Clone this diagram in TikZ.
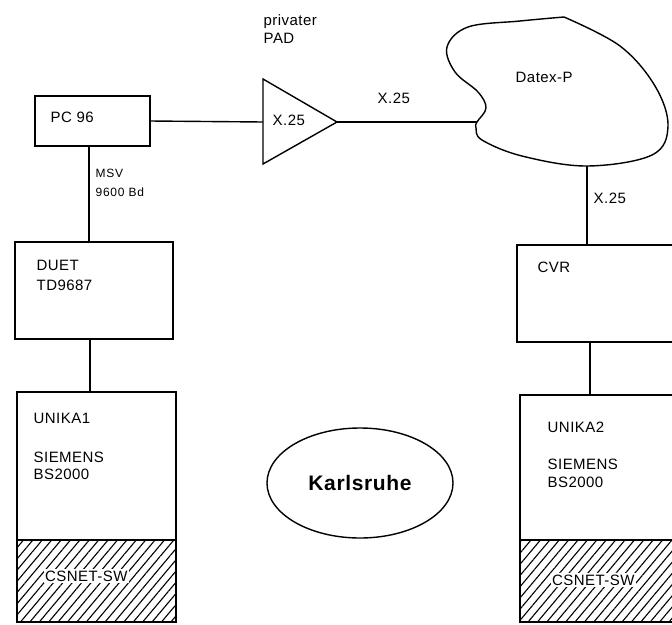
\documentclass[tikz,border=0pt]{standalone}
\usepackage{fontspec}
\setmainfont{Liberation Sans}[LetterSpace=3]
\usetikzlibrary{shapes.geometric,patterns.meta}
\begin{document}
\begin{tikzpicture}[x=1pt,y=-1pt,line width=1.4pt,
  box/.style={draw,line width=1.4pt,inner sep=0pt,outer sep=0pt,anchor=north west},
  txt/.style={anchor=base west,inner sep=0pt,font=\fontsize{15}{18}\selectfont},
  small/.style={anchor=base west,inner sep=0pt,font=\fontsize{12}{14}\selectfont\addfontfeatures{LetterSpace=6}},
  hatch/.style={pattern={Lines[angle=50,distance=7.2pt,line width=1.1pt]}},
  swlabel/.style={anchor=base west,inner sep=1.5pt,fill=white,font=\fontsize{15}{18}\selectfont}]
\useasboundingbox (0,0) rectangle (672,624);

% boxes
\node[box,minimum width=115,minimum height=50] (pc) at (35,96) {};
\node[box,minimum width=158,minimum height=97] (duet) at (15,242) {};
\node[box,minimum width=159,minimum height=148] (unika1) at (17,392) {};
\node[box,hatch,minimum width=159,minimum height=82] (sw1) at (17,540) {};
\node[box,minimum width=190,minimum height=97] (cvr) at (517,245) {};
\node[box,minimum width=190,minimum height=145] (unika2) at (520,395) {};
\node[box,hatch,minimum width=190,minimum height=82] (sw2) at (520,540) {};

% PAD triangle
\coordinate (padT) at (263,79);
\coordinate (padB) at (263,164);
\coordinate (padR) at (337,122);
\coordinate (padL) at (263,122);
\draw (padT) -- (padR) -- (padB) -- cycle;

% Datex-P cloud
\coordinate (cloudL) at (477,122);
\coordinate (cloudB) at (587,166);
\draw plot[smooth,tension=0.6] coordinates {(564,17) (620,46) (655,86) (668,126) (652,155) (587,166) (522,156) (482,140) (476,128) (477,122) (486,108) (478,92) (455,72) (447,47) (468,27) (520,21) (564,17)};

% Karlsruhe
\node[draw,ellipse,minimum width=186,minimum height=110,line width=1.4pt,
  font=\fontsize{21}{24}\bfseries\selectfont] (ka) at (360,483) {Karlsruhe};

% connectors
\draw (pc.east) -- (padL);
\draw (padR) -- (cloudL);
\draw ([xshift=-3.5pt]pc.south) -- ([xshift=-3.5pt]pc.south |- duet.north);
\draw ([xshift=-4pt]duet.south) -- ([xshift=-4pt]duet.south |- unika1.north);
\draw (cloudB) -- (cloudB |- cvr.north);
\draw ([xshift=73pt]cvr.south west) -- ([xshift=73pt]cvr.south west |- unika2.north);

% texts
\node[txt] (tpc) at (50,122) {PC 96};
\node[small] (tmsv) at (95,177) {MSV};
\node[small] (tbd) at (95,196) {9600 Bd};
\node[txt] (tpriv) at (263,25) {privater};
\node[txt] (tpad) at (263,43) {PAD};
\node[txt] (tx1) at (272,125) {X.25};
\node[txt] (tx2) at (377,103) {X.25};
\node[txt] (tdatex) at (515,82) {Datex-P};
\node[txt] (tx3) at (593,203) {X.25};
\node[txt] (tduet) at (36,270) {DUET};
\node[txt] (ttd) at (36,290) {TD9687};
\node[txt] (tcvr) at (537,272) {CVR};
\node[txt] (tu1) at (33,423) {UNIKA1};
\node[txt] (ts1) at (33,462) {SIEMENS};
\node[txt] (tb1) at (33,479) {BS2000};
\node[swlabel] (tc1) at (43,581) {CSNET-SW};
\node[txt] (tu2) at (547,432) {UNIKA2};
\node[txt] (ts2) at (547,469) {SIEMENS};
\node[txt] (tb2) at (547,487) {BS2000};
\node[swlabel] (tc2) at (550,585) {CSNET-SW};
\end{tikzpicture}
\end{document}
